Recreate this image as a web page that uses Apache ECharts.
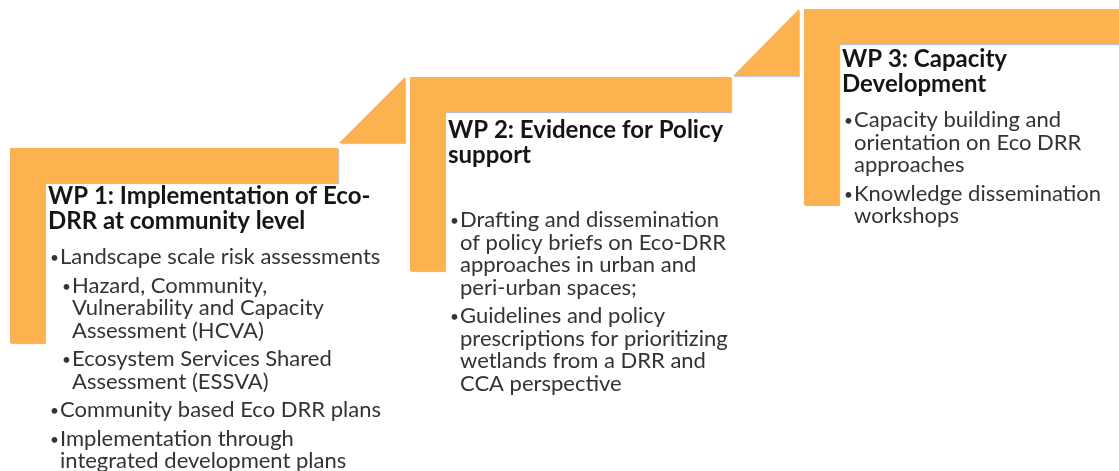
<!DOCTYPE html>
<html>
<head>
<meta charset="utf-8">
<script src="https://cdn.jsdelivr.net/npm/echarts@6/dist/echarts.min.js"></script>
<style>
  html, body { margin: 0; padding: 0; background: #fff; }
  #main { width: 1119px; height: 471px; }
</style>
</head>
<body>
<div id="main"></div>
<script>
// step geometry (diagram units, same scale as the picture)
const stepLeft = [10, 410, 804];
const stepRight = [338, 731, 1119];
const stepTop = [148, 77, 9];
const stepBottom = [343, 271, 205];

// connector triangles between the steps
const connLeft = [339, 733];
const connRight = [405, 799];
const connBase = [143, 76];
const connTop = [77, 9];

const panelTitles = [
  ['WP 1: Implementation of Eco-', 'DRR at community level'],
  ['WP 2: Evidence for Policy', 'support'],
  ['WP 3: Capacity', 'Development']
];

// [level, lines]
const wp1Bullets = [
  [1, ['Landscape scale risk assessments']],
  [2, ['Hazard, Community,', 'Vulnerability and Capacity', 'Assessment (HCVA)']],
  [2, ['Ecosystem Services Shared', 'Assessment (ESSVA)']],
  [1, ['Community based Eco DRR plans']],
  [1, ['Implementation through', 'integrated development plans']]
];
const wp2Bullets = [
  [1, ['Drafting and dissemination', 'of policy briefs on Eco-DRR', 'approaches in urban and', 'peri-urban spaces;']],
  [1, ['Guidelines and policy', 'prescriptions for prioritizing', 'wetlands from a DRR and', 'CCA perspective']]
];
const wp3Bullets = [
  [1, ['Capacity building and', 'orientation on Eco DRR', 'approaches']],
  [1, ['Knowledge dissemination', 'workshops']]
];
const panelBullets = [wp1Bullets, wp2Bullets, wp3Bullets];

const ORANGE = '#FBB24F';
const THICK = 35;
const FONT = 'Lato, "Open Sans", sans-serif';
const titleSize = 24;
const bodySize = 22;
const titleGap = [56, 61, 58];   // top of step -> first title baseline
const bulletGap = [35, 64, 35];  // last title baseline -> first bullet baseline

var myChart = echarts.init(document.getElementById('main'));

function stepShape(params, api) {
  const i = params.dataIndex;
  const l = stepLeft[i], r = stepRight[i], t = stepTop[i], b = stepBottom[i];
  const pts = [[l, t], [r, t], [r, t + THICK], [l + THICK, t + THICK], [l + THICK, b], [l, b]].map(p => api.coord(p));
  return {
    type: 'polygon',
    shape: { points: pts },
    style: { fill: ORANGE, shadowColor: 'rgba(140,160,195,0.7)', shadowOffsetX: 1, shadowOffsetY: 1, shadowBlur: 1 }
  };
}

function connShape(params, api) {
  const i = params.dataIndex;
  const pts = [[connLeft[i], connBase[i]], [connRight[i], connTop[i]], [connRight[i], connBase[i]]].map(p => api.coord(p));
  return {
    type: 'polygon',
    shape: { points: pts },
    style: { fill: ORANGE, shadowColor: 'rgba(140,160,195,0.6)', shadowOffsetX: 1, shadowOffsetY: 1, shadowBlur: 1 }
  };
}

// y passed in is the text baseline; 'middle' alignment sits ~0.32em above it
function textBlock(params, api) {
  const i = params.dataIndex;
  const children = [];
  let y = stepTop[i] + titleGap[i];
  const tx = stepLeft[i] + 38;
  panelTitles[i].forEach((line, k) => {
    if (k > 0) y += 25;
    const p = api.coord([tx, y - 0.32 * titleSize]);
    children.push({
      type: 'text', x: p[0], y: p[1],
      style: { text: line, font: 'bold ' + titleSize + 'px ' + FONT, fill: '#151515', verticalAlign: 'middle', align: 'left' }
    });
  });
  y += bulletGap[i];
  panelBullets[i].forEach((item, n) => {
    if (n > 0) y += 28.5;
    const level = item[0];
    const bx = stepLeft[i] + (level === 1 ? 40 : 52);
    const lx = bx + 10;
    item[1].forEach((line, k) => {
      if (k > 0) y += 22.5;
      if (k === 0) {
        const bp = api.coord([bx, y - 0.26 * bodySize]);
        children.push({
          type: 'text', x: bp[0], y: bp[1],
          style: { text: '•', font: bodySize * 0.7 + 'px ' + FONT, fill: '#333', verticalAlign: 'middle', align: 'left' }
        });
      }
      const p = api.coord([lx, y - 0.32 * bodySize]);
      children.push({
        type: 'text', x: p[0], y: p[1],
        style: { text: line, font: bodySize + 'px ' + FONT, fill: '#333', verticalAlign: 'middle', align: 'left' }
      });
    });
  });
  return { type: 'group', children: children };
}

var option = {
  animation: false,
  grid: { left: 0, right: 0, top: 0, bottom: 0 },
  xAxis: { type: 'value', min: 0, max: 1119, show: false },
  yAxis: { type: 'value', min: 0, max: 471, inverse: true, show: false },
  series: [
    { type: 'custom', renderItem: connShape, data: connLeft.map((v, i) => [v, connBase[i]]), silent: true },
    { type: 'custom', renderItem: stepShape, data: stepLeft.map((v, i) => [v, stepTop[i]]), silent: true },
    { type: 'custom', renderItem: textBlock, data: stepLeft.map((v, i) => [v, stepTop[i]]), silent: true, clip: false }
  ]
};
myChart.setOption(option);
</script>
</body>
</html>
